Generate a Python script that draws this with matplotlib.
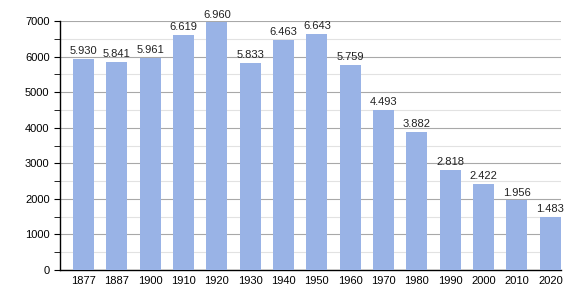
import matplotlib
matplotlib.use("Agg")
import matplotlib.pyplot as plt
from matplotlib.ticker import MultipleLocator

years = ["1877", "1887", "1900", "1910", "1920", "1930", "1940", "1950",
         "1960", "1970", "1980", "1990", "2000", "2010", "2020"]
population = [5930, 5841, 5961, 6619, 6960, 5833, 6463, 6643,
              5759, 4493, 3882, 2818, 2422, 1956, 1483]

plt.rcParams['font.family'] = ['Liberation Sans', 'DejaVu Sans']
fig = plt.figure(figsize=(5.8, 3.0), dpi=100)
ax = fig.add_axes([60/580, 0.1, (561-60)/580, (270-21)/300])

x = list(range(len(years)))
ax.bar(x, population, width=0.63, color='#99b3e6', zorder=3)
for xi, v in zip(x, population):
    label = f"{v:,}".replace(",", ".")
    ax.text(xi, v + 80, label, ha='center', va='bottom', fontsize=8, color='#222222', zorder=4)

ax.set_xlim(-0.7, 14.32)
ax.set_ylim(0, 7000)
ax.yaxis.set_major_locator(MultipleLocator(1000))
ax.yaxis.set_minor_locator(MultipleLocator(500))
ax.grid(axis='y', which='major', color='#a8a8a8', linewidth=0.8, zorder=0)
ax.grid(axis='y', which='minor', color='#e2e2e2', linewidth=0.8, zorder=0)
ax.set_xticks(x)
ax.set_xticklabels(years)
ax.tick_params(axis='x', length=0, labelsize=8, pad=4)
ax.tick_params(axis='y', which='major', length=4, labelsize=8, direction='out')
ax.tick_params(axis='y', which='minor', length=4, direction='out')
for s in ['top', 'right']:
    ax.spines[s].set_visible(False)
ax.spines['left'].set_linewidth(1.0)
ax.spines['bottom'].set_linewidth(1.0)

fig.savefig("out.png", dpi=100)
